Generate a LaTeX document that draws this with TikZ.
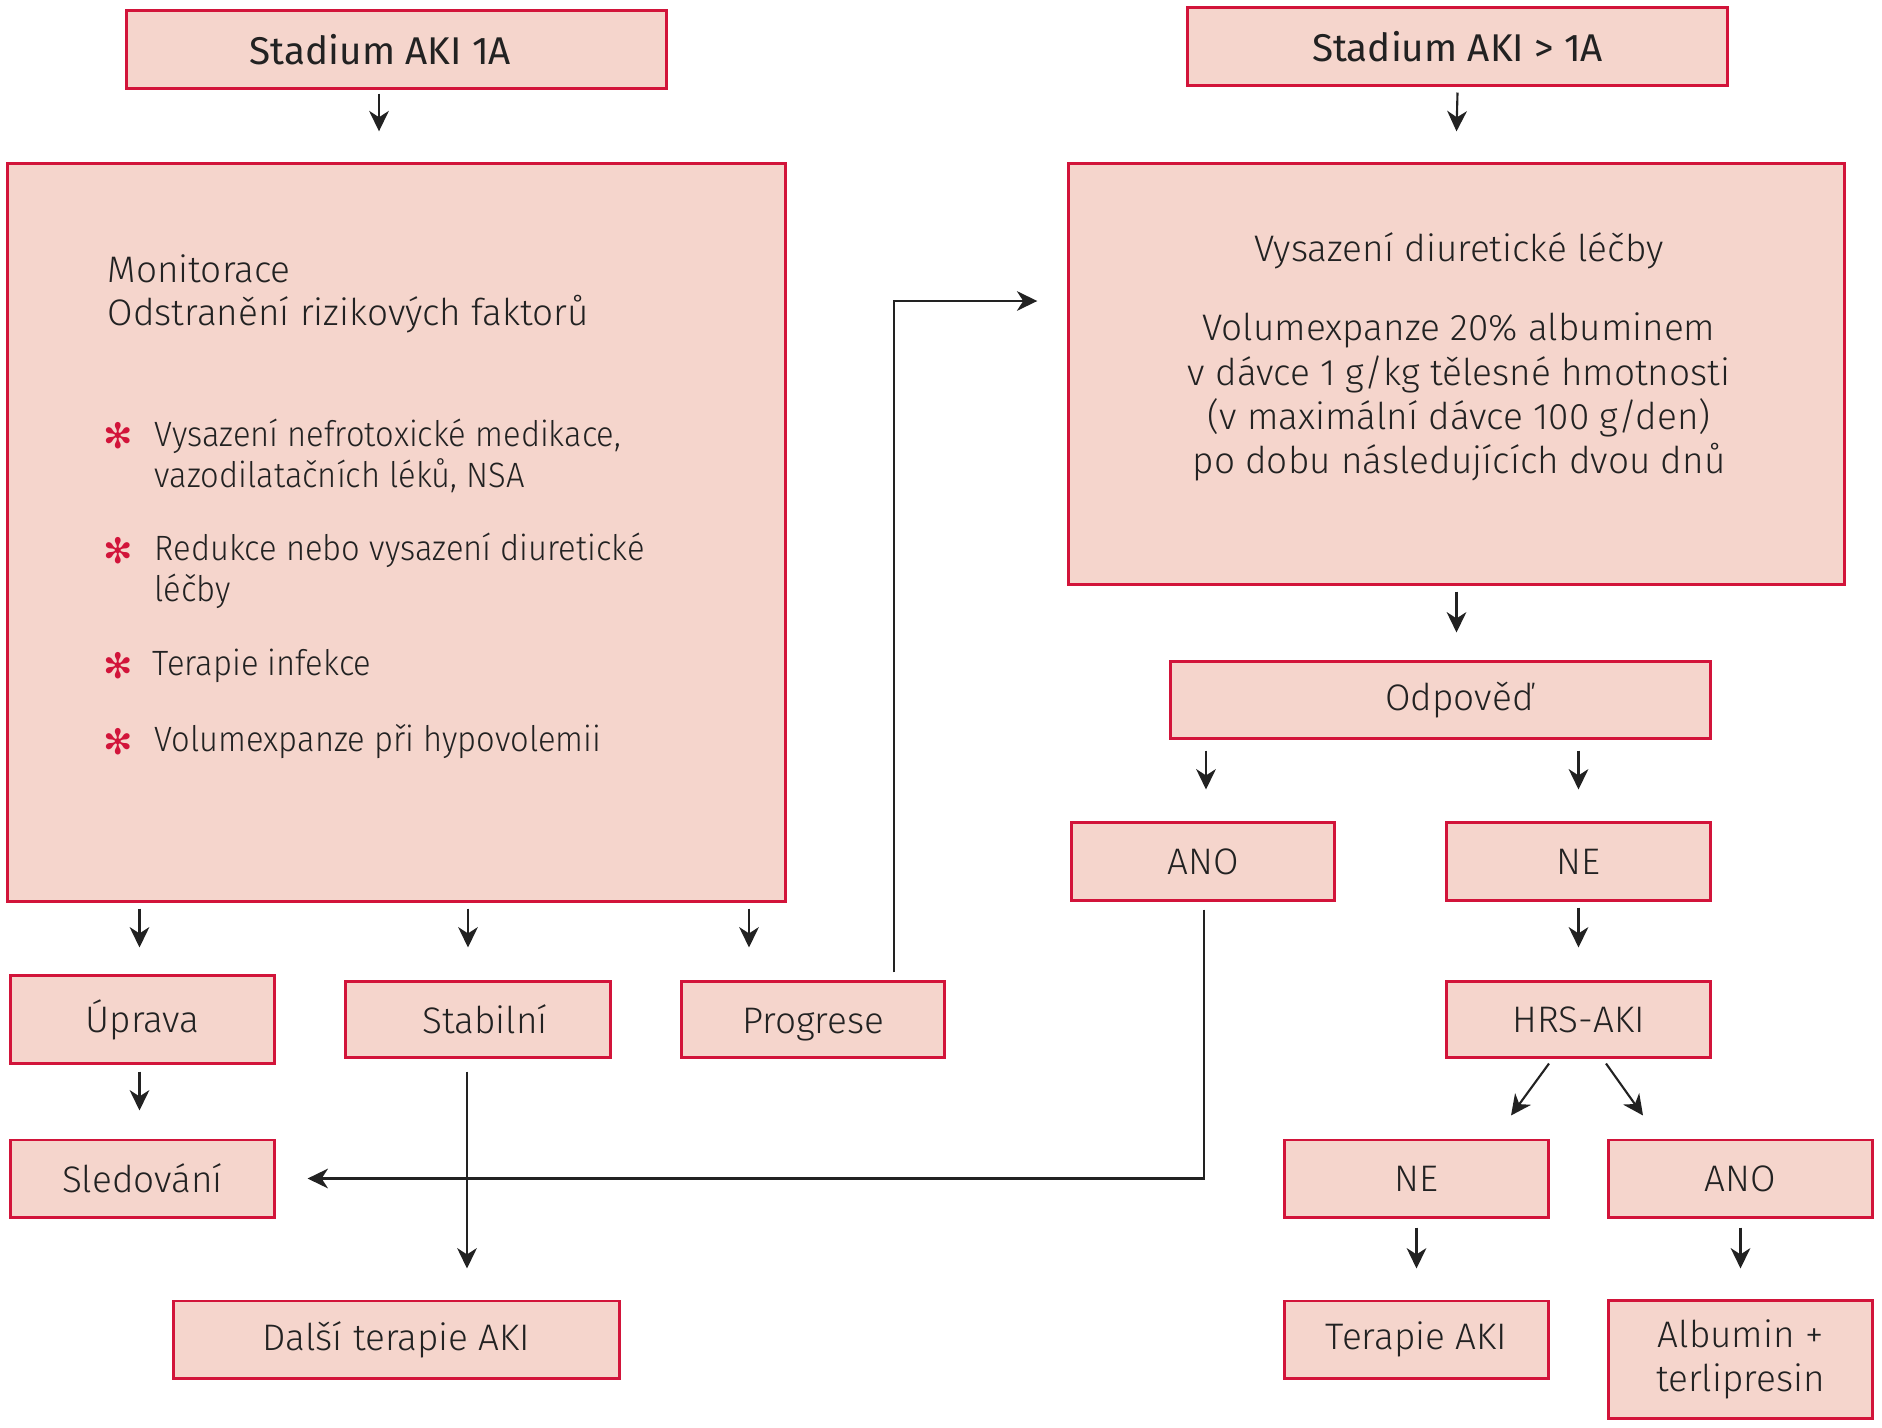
\documentclass[tikz,border=0pt]{standalone}
\usepackage{fontspec}
\setmainfont{Fira Sans Light}
\newfontfamily\titlefont{Fira Sans}
\newfontfamily\symfont{DejaVu Sans}
\usetikzlibrary{calc,arrows.meta}
\definecolor{boxfill}{HTML}{F5D5CC}
\definecolor{boxline}{HTML}{D2143A}
\definecolor{ink}{HTML}{222222}
\newcommand{\bul}{{\symfont\color{boxline}✻}}
\tikzset{
  box/.style={draw=boxline,fill=boxfill,line width=0.85pt,inner sep=0pt,align=center,
    font=\fontsize{10.5}{12.6}\selectfont,text=ink},
  txt/.style={inner sep=0pt,align=left,anchor=west,font=\fontsize{10.5}{12.6}\selectfont,text=ink},
  item/.style={txt,font=\fontsize{10}{11.8}\selectfont\addfontfeature{FakeStretch=0.93}},
  arr/.style={draw=ink,line width=0.6pt,-{Stealth[length=5.8pt,width=5.6pt,inset=1.8pt]}}
}
\begin{document}
\begin{tikzpicture}[x=0.01cm,y=-0.01cm]
\useasboundingbox (0,0) rectangle (1882,1427);

% left branch
\node[box,minimum width=5.39cm,minimum height=0.77cm,font=\fontsize{11}{13}\titlefont] (s1) at (396.5,49.5) {Stadium AKI 1A\hspace*{0.32cm}};
\node[box,minimum width=7.77cm,minimum height=7.37cm] (mon) at (396.5,532.5) {};
\node[txt] (monA) at (107,269) {Monitorace};
\node[txt] (monB) at (107,314) {Odstranění rizikových faktorů};
\node[inner sep=0pt,font=\fontsize{10}{12}\selectfont] (b1) at (118,436) {\bul};
\node[inner sep=0pt,font=\fontsize{10}{12}\selectfont] (b2) at (118,551) {\bul};
\node[inner sep=0pt,font=\fontsize{10}{12}\selectfont] (b3) at (118,666) {\bul};
\node[inner sep=0pt,font=\fontsize{10}{12}\selectfont] (b4) at (118,742) {\bul};
\node[item] (t1) at (154,456) {Vysazení nefrotoxické medikace,\\vazodilatačních léků, NSA};
\node[item] (t2) at (154,571) {Redukce nebo vysazení diuretické\\léčby};
\node[item] (t3) at (152,666) {Terapie infekce};
\node[item] (t4) at (154,742) {Volumexpanze při hypovolemii};

\node[box,minimum width=2.63cm,minimum height=0.87cm] (uprava) at (142.5,1019.5) {Úprava};
\node[box,minimum width=2.64cm,minimum height=0.75cm] (stab) at (478,1019.5) {\hspace{0.14cm}Stabilní};
\node[box,minimum width=2.62cm,minimum height=0.75cm] (prog) at (813,1019.5) {\raisebox{-0.055cm}[\height][\depth]{Progrese}};
\node[box,minimum width=2.63cm,minimum height=0.77cm] (sled) at (142.5,1178.5) {Sledování};
\node[box,minimum width=4.45cm,minimum height=0.77cm] (dalsi) at (396.5,1339.5) {Další terapie AKI};

% right branch
\node[box,minimum width=5.39cm,minimum height=0.77cm,font=\fontsize{11}{13}\titlefont] (s2) at (1457.5,46.5) {Stadium AKI > 1A};
\node[box,minimum width=7.75cm,minimum height=4.20cm] (vys) at (1456.5,374) {};
\node[inner sep=0pt,align=center,text=ink,font=\fontsize{10.5}{12.6}\selectfont] (vysT) at (1459,357)
  {Vysazení diuretické léčby\\[10pt]Volumexpanze 20\% albuminem\\v dávce 1 g/kg tělesné hmotnosti\\(v maximální dávce 100 g/den)\\po dobu následujících dvou dnů};
\node[box,minimum width=5.39cm,minimum height=0.76cm] (odp) at (1440.5,700) {\hspace{0.38cm}Odpověď};
\node[box,minimum width=2.62cm,minimum height=0.77cm] (ano1) at (1203,861.5) {ANO};
\node[box,minimum width=2.63cm,minimum height=0.77cm] (ne1) at (1578.5,861.5) {NE};
\node[box,minimum width=2.63cm,minimum height=0.75cm] (hrs) at (1578.5,1019.5) {HRS-AKI};
\node[box,minimum width=2.63cm,minimum height=0.77cm] (ne2) at (1416.5,1178.5) {NE};
\node[box,minimum width=2.63cm,minimum height=0.77cm] (ano2) at (1740.5,1178.5) {ANO};
\node[box,minimum width=2.63cm,minimum height=0.77cm] (terap) at (1416.5,1339.5) {Terapie AKI};
\node[box,minimum width=2.63cm,minimum height=1.17cm] (alb) at (1740.5,1359.5) {Albumin +\\terlipresin};

% connectors
\draw[arr] ($(s1.south)+(-17.5,4)$) -- ($(mon.north)+(-17.5,-31)$);
\draw[arr] ($(mon.south -| uprava.north)+(-3,6)$) -- ($(uprava.north)+(-3,-27)$);
\draw[arr] ($(mon.south -| stab.north)+(-10,6)$) -- ($(stab.north)+(-10,-33)$);
\draw[arr] ($(mon.south -| prog.north)+(-64,6)$) -- ($(prog.north)+(-64,-33)$);
\draw[arr] ($(uprava.south)+(-3,7)$) -- ($(sled.north)+(-3,-28)$);
\draw[arr] ($(stab.south)+(-11,13)$) -- ($(stab.south |- dalsi.north)+(-11,-31)$);
\draw[arr] ($(prog.north)+(81,-8)$) |- ($(vys.west)+(-30,-73)$);

\draw[arr] ($(s2.south)+(0,6)$) -- ($(vys.north)+(0,-31)$);
\draw[arr] ($(vys.south)+(0,6)$) -- ($(vys.south |- odp.north)+(0,-28)$);
\draw[arr] ($(odp.south -| ano1.north)+(3,11)$) -- ($(ano1.north)+(3,-32)$);
\draw[arr] ($(odp.south -| ne1.north)+(0,11)$) -- ($(ne1.north)+(0,-32)$);
\draw[arr] ($(ne1.south)+(0,6)$) -- ($(hrs.north)+(0,-33)$);
\draw[arr] ($(hrs.south)+(-29.5,5)$) -- ($(ne2.north)+(94.5,-23)$);
\draw[arr] ($(hrs.south)+(27.5,5)$) -- ($(ano2.north)+(-97.5,-23)$);
\draw[arr] ($(ne2.south)+(0,9)$) -- ($(terap.north)+(0,-31)$);
\draw[arr] ($(ano2.south)+(0,9)$) -- ($(alb.north)+(0,-31)$);
\draw[arr] ($(ano1.south)+(1,8)$) |- ($(sled.east)+(32,0)$);
\end{tikzpicture}
\end{document}
